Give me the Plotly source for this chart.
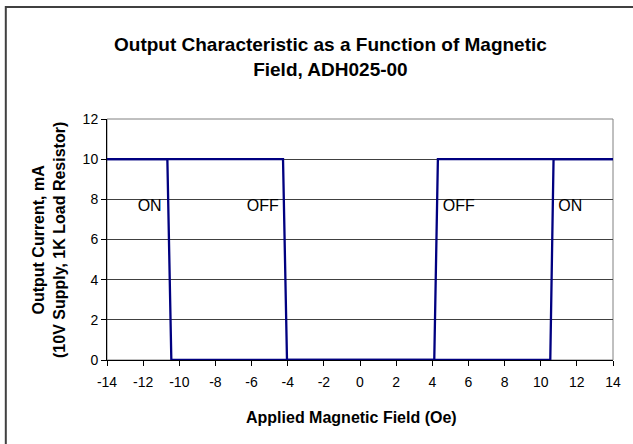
import plotly.graph_objects as go

# Hysteresis sweep data (Applied field Oe, Output current mA)
sweep_a_x = [-14.33, -10.66, -10.44, 10.53, 10.71, 14.33]
sweep_a_y = [10, 10, 0, 0, 10, 10]
sweep_b_x = [-14.33, -4.26, -4.04, 4.11, 4.31, 14.33]
sweep_b_y = [10, 10, 0, 0, 10, 10]

label_text = ["ON", "OFF", "OFF", "ON"]
label_x = [-11.64, -5.38, 5.47, 11.64]
label_y = [7.6, 7.6, 7.6, 7.6]

x_ticks = list(range(-14, 15, 2))
y_ticks = list(range(0, 13, 2))

FONT = "Liberation Sans, Arial, sans-serif"
NAVY = "#000080"

W, H = 633, 444
L, R, T, B = 107, 16, 119, 84
pw, ph = W - L - R, H - T - B

def px(x):
    return (x - L) / pw

def py(y):
    return (H - B - y) / ph

fig = go.Figure()
for xs, ys in [(sweep_a_x, sweep_a_y), (sweep_b_x, sweep_b_y)]:
    fig.add_trace(go.Scatter(x=xs, y=ys, mode="lines",
                             line=dict(color=NAVY, width=2.3),
                             showlegend=False, hoverinfo="skip"))

fig.add_trace(go.Scatter(x=label_x, y=label_y, mode="text", text=label_text,
                         textfont=dict(family=FONT, size=16, color="black"),
                         showlegend=False, hoverinfo="skip"))

shapes = [
    dict(type="rect", xref="paper", yref="paper", x0=0, x1=1, y0=0, y1=1,
         line=dict(color="#808080", width=1), layer="below"),
    dict(type="rect", xref="paper", yref="paper",
         x0=px(5), x1=px(645), y0=py(455), y1=py(7),
         line=dict(color="#404040", width=2), layer="below"),
]

annotations = [
    dict(text="<b>Output Characteristic as a Function of Magnetic<br>Field, ADH025-00</b>",
         xref="paper", yref="paper", x=px(332), y=py(57), xanchor="center", yanchor="middle",
         showarrow=False, font=dict(family=FONT, size=19, color="black")),
    dict(text="<b>Output Current, mA<br>(10V Supply, 1K Load Resistor)</b>",
         xref="paper", yref="paper", x=px(48), y=0.5, xanchor="center", yanchor="middle",
         textangle=-90, showarrow=False, font=dict(family=FONT, size=16, color="black")),
    dict(text="<b>Applied Magnetic Field (Oe)</b>",
         xref="paper", yref="paper", x=px(353), y=py(417), xanchor="center", yanchor="middle",
         showarrow=False, font=dict(family=FONT, size=16, color="black")),
]

fig.update_layout(
    width=W, height=H,
    margin=dict(l=L, r=R, t=T, b=B, pad=0),
    paper_bgcolor="white", plot_bgcolor="white",
    font=dict(family=FONT, size=14, color="black"),
    shapes=shapes, annotations=annotations,
    xaxis=dict(range=[-14, 14], tickvals=x_ticks, ticktext=[str(v) for v in x_ticks],
               showgrid=False, zeroline=False, showline=True, linecolor="black", linewidth=1,
               ticks="outside", ticklen=5, tickcolor="black", ticklabelstandoff=4,
               tickfont=dict(family=FONT, size=14, color="black")),
    yaxis=dict(range=[0, 12], tickvals=y_ticks, ticktext=[str(v) for v in y_ticks],
               showgrid=True, gridcolor="#404040", gridwidth=1, zeroline=False,
               showline=True, linecolor="black", linewidth=1,
               ticks="outside", ticklen=5, tickcolor="black",
               tickfont=dict(family=FONT, size=14, color="black")),
)

fig.write_html("out.html", config={"displayModeBar": False},
               post_script="document.body.style.margin='0px';")
